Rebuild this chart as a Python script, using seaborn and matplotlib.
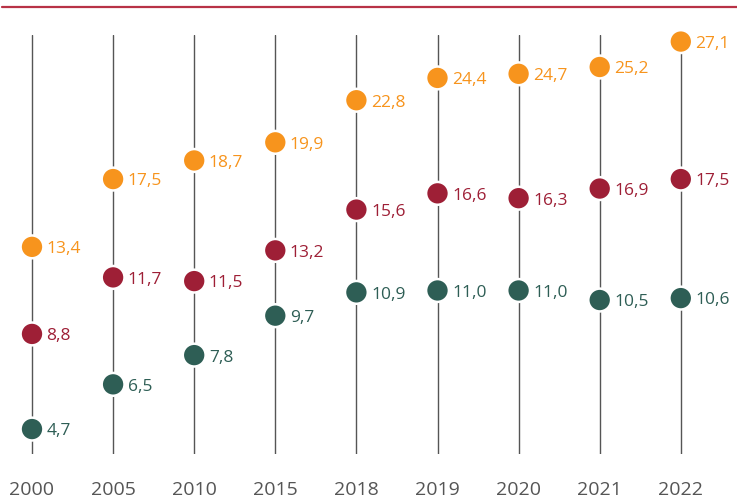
import matplotlib
matplotlib.use("Agg")
import matplotlib.pyplot as plt
from matplotlib.lines import Line2D
import seaborn as sns
import pandas as pd
import numpy as np

years = ["2000", "2005", "2010", "2015", "2018", "2019", "2020", "2021", "2022"]
orange_vals = [13.4, 17.5, 18.7, 19.9, 22.8, 24.4, 24.7, 25.2, 27.1]
crimson_vals = [8.8, 11.7, 11.5, 13.2, 15.6, 16.6, 16.3, 16.9, 17.5]
teal_vals = [4.7, 6.5, 7.8, 9.7, 10.9, 11.0, 11.0, 10.5, 10.6]

series = {"orange": orange_vals, "crimson": crimson_vals, "teal": teal_vals}
palette = {"orange": "#F7941D", "crimson": "#9E1F36", "teal": "#2E5E55"}

df = pd.DataFrame([
    {"pos": i, "year": y, "series": s, "value": v}
    for s, vals in series.items() for i, (y, v) in enumerate(zip(years, vals))
])

sns.set_theme(style="white")
plt.rcParams["font.family"] = ["Open Sans", "DejaVu Sans"]

fig = plt.figure(figsize=(7.37, 5.02), dpi=100)
ax = fig.add_axes([0, 47 / 502, 1, 419 / 502])

# compressed (power) value scale as in the original graphic
p = 0.6
ax.set_yscale("function", functions=(lambda v: np.sign(v) * np.abs(v) ** p,
                                     lambda t: np.sign(t) * np.abs(t) ** (1 / p)))

sns.scatterplot(data=df, x="pos", y="value", hue="series", palette=palette,
                s=270, edgecolor="white", linewidth=1.8, legend=False, ax=ax,
                zorder=3, clip_on=False)

for _, r in df.iterrows():
    ax.annotate(f"{r['value']:.1f}".replace(".", ","), (r["pos"], r["value"]),
                xytext=(10.5, -1), textcoords="offset points", va="center", ha="left",
                fontsize=12.5, color=palette[r["series"]])

ax.set_xlim(-32 / 81.1, (737 - 32) / 81.1)
ax.set_ylim(3.8, 27.6)
ax.set_xticks(range(len(years)))
ax.set_xticklabels(years, fontsize=14, color="#555555")
ax.tick_params(axis="x", length=0, pad=19)
ax.set_yticks([])
ax.set_xlabel("")
ax.set_ylabel("")
ax.grid(axis="x", color="#555555", linewidth=1)
ax.set_axisbelow(True)
for s in ax.spines.values():
    s.set_visible(False)

fig.add_artist(Line2D([2 / 737, 1], [1 - 8 / 502, 1 - 8 / 502],
                      transform=fig.transFigure, color="#B83246", linewidth=1.6))

fig.savefig("out.png", dpi=100)
